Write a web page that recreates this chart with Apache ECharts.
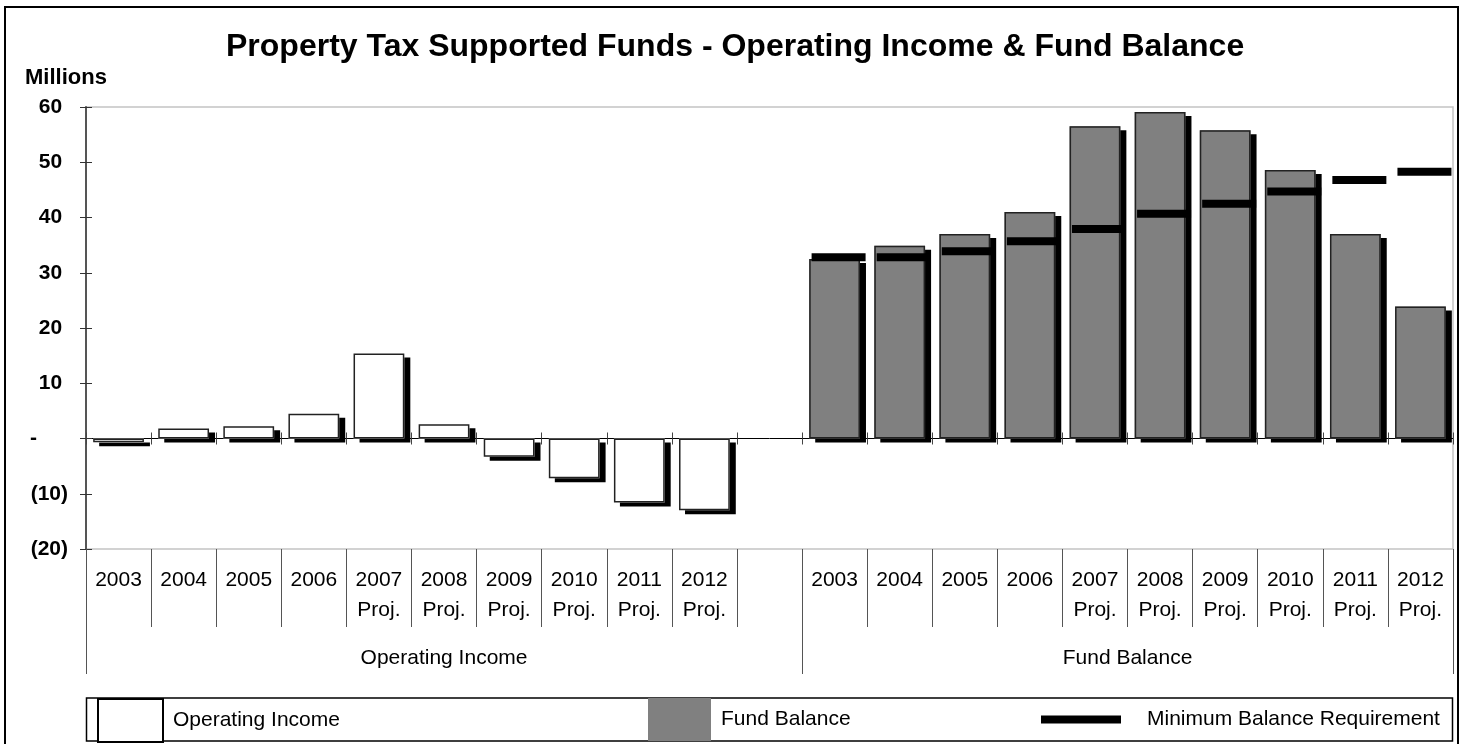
<!DOCTYPE html>
<html>
<head>
<meta charset="utf-8">
<title>Property Tax Supported Funds</title>
<script src="https://cdn.jsdelivr.net/npm/echarts@6/dist/echarts.min.js"></script>
<style>
  html, body { margin: 0; padding: 0; background: #fff; }
  #chart { width: 1465px; height: 744px; }
</style>
</head>
<body>
<div id="chart"></div>
<script>
// ---- data (millions) ----
var yearLabels = ['2003', '2004', '2005', '2006', '2007\nProj.', '2008\nProj.',
                  '2009\nProj.', '2010\nProj.', '2011\nProj.', '2012\nProj.'];
var groupNames = ['Operating Income', 'Fund Balance'];
var operatingIncome = [-0.7, 1.8, 2.2, 4.5, 15.4, 2.6, -3.3, -7.2, -11.6, -13.0];
var fundBalance = [32.5, 34.9, 37.0, 41.0, 56.5, 59.1, 55.8, 48.6, 37.0, 23.9];
var minBalance = [32.8, 32.8, 33.9, 35.7, 37.9, 40.7, 42.5, 44.7, 46.8, 48.3];
var yMin = -20, yMax = 60, yStep = 10;

var FONT = '"Liberation Sans", Arial, sans-serif';

// one empty slot between the two groups
var categories = yearLabels.concat([''], yearLabels);
function blanks(n) { var a = []; for (var i = 0; i < n; i++) a.push('-'); return a; }
var incomeData = operatingIncome.concat(blanks(yearLabels.length + 1));
var balanceData = blanks(yearLabels.length + 1).concat(fundBalance);
var minData = blanks(yearLabels.length + 1).concat(minBalance);
var groupSplit = yearLabels.length + 1;

function drawChart(domId) {
    var dom = document.getElementById(domId);
    var myChart = echarts.init(dom, null, { renderer: 'canvas' });

    // hard drop shadow, only on the fill (border is drawn by an overlay series)
    var shadow = { shadowColor: '#000', shadowBlur: 0, shadowOffsetX: 6, shadowOffsetY: 4 };
    var noShadow = { shadowColor: 'rgba(0,0,0,0)', shadowBlur: 0, shadowOffsetX: 0, shadowOffsetY: 0 };

    function barSeries(name, data, style) {
        return {
            name: name,
            type: 'bar',
            xAxisIndex: 0, yAxisIndex: 0,
            barWidth: '78%',
            barGap: '-100%',
            data: data,
            itemStyle: style
        };
    }

    var option = {
        animation: false,
        backgroundColor: '#fff',
        title: {
            text: 'Property Tax Supported Funds - Operating Income & Fund Balance',
            left: 221,
            top: 26,
            textStyle: { fontFamily: FONT, fontSize: 32, fontWeight: 'bold', color: '#000' }
        },
        grid: {
            left: 86, right: 12, top: 107, bottom: 195,
            show: true,
            borderColor: '#c4c4c4',
            borderWidth: 1.5
        },
        legend: [
            {
                data: ['Operating Income'],
                left: 92, top: 693,
                icon: 'rect', itemWidth: 65, itemHeight: 43,
                itemStyle: Object.assign({ color: '#fff', borderColor: '#000', borderWidth: 2 }, noShadow),
                textStyle: { fontFamily: FONT, fontSize: 21, color: '#000', padding: [0, 0, 0, 5] }
            },
            {
                data: ['Fund Balance'],
                left: 643, top: 693,
                icon: 'rect', itemWidth: 63, itemHeight: 43,
                itemStyle: Object.assign({ color: '#808080', borderColor: '#808080', borderWidth: 0 }, noShadow),
                textStyle: { fontFamily: FONT, fontSize: 21, color: '#000', padding: [0, 0, 0, 5] }
            },
            {
                data: ['Minimum Balance Requirement'],
                left: 1036, top: 704,
                icon: 'rect', itemWidth: 80, itemHeight: 8,
                itemStyle: Object.assign({ color: '#000', borderWidth: 0 }, noShadow),
                textStyle: { fontFamily: FONT, fontSize: 21, color: '#000', padding: [0, 0, 0, 21] }
            }
        ],
        xAxis: [
            {   // year labels with long dividers
                type: 'category',
                data: categories,
                position: 'bottom',
                axisLine: { show: false, onZero: false },
                axisTick: { show: true, interval: 0, length: 78, lineStyle: { color: '#555', width: 1 } },
                axisLabel: {
                    interval: 0, margin: 16, fontFamily: FONT, fontSize: 21,
                    lineHeight: 30, color: '#000'
                },
                splitLine: { show: false }
            },
            {   // zero line, ticks below
                type: 'category',
                data: categories,
                position: 'bottom',
                axisLine: { show: true, onZero: true, onZeroAxisIndex: 0, lineStyle: { color: '#000', width: 1 } },
                axisTick: { show: true, interval: 0, length: 6, lineStyle: { color: '#444' } },
                axisLabel: { show: false },
                splitLine: { show: false }
            },
            {   // zero line, ticks above
                type: 'category',
                data: categories,
                position: 'bottom',
                axisLine: { show: false, onZero: true, onZeroAxisIndex: 0 },
                axisTick: { show: true, inside: true, interval: 0, length: 6, lineStyle: { color: '#444' } },
                axisLabel: { show: false },
                splitLine: { show: false }
            },
            {   // group labels
                type: 'value',
                min: 0,
                max: categories.length,
                position: 'bottom',
                axisLine: { show: false, onZero: false },
                axisTick: {
                    show: true, length: 125,
                    customValues: [0, groupSplit, categories.length],
                    lineStyle: { color: '#555', width: 1 }
                },
                axisLabel: {
                    show: true, margin: 99, fontFamily: FONT, fontSize: 21, color: '#000',
                    customValues: [groupSplit / 2, (groupSplit + categories.length) / 2],
                    formatter: function (v) { return v < groupSplit ? groupNames[0] : groupNames[1]; }
                },
                splitLine: { show: false }
            }
        ],
        yAxis: [
            {
                type: 'value',
                min: yMin, max: yMax, interval: yStep,
                position: 'left',
                axisLine: { show: true, onZero: false, lineStyle: { color: '#555', width: 2 } },
                axisTick: { show: true, length: 6, lineStyle: { color: '#333', width: 1 } },
                axisLabel: {
                    margin: 18, align: 'right',
                    fontFamily: FONT, fontSize: 21, fontWeight: 'bold', color: '#000',
                    formatter: function (v) {
                        if (v === 0) return '{z|-}';
                        if (v < 0) return '(' + (-v) + ')';
                        return v + ' ';
                    },
                    rich: {
                        z: { width: 38, align: 'left', fontFamily: FONT, fontSize: 21, fontWeight: 'bold', color: '#000' }
                    }
                },
                splitLine: { show: false }
            },
            {
                type: 'value',
                min: yMin, max: yMax, interval: yStep,
                position: 'left',
                axisLine: { show: false, onZero: false },
                axisTick: { show: true, inside: true, length: 6, lineStyle: { color: '#333', width: 1 } },
                axisLabel: { show: false },
                splitLine: { show: false }
            }
        ],
        graphic: [
            {
                type: 'text', left: 25, top: 67, silent: true,
                style: { text: 'Millions', font: 'bold 22px ' + FONT, fill: '#000' }
            },
            {
                type: 'rect', silent: true, z: 0,
                shape: { x: 86.5, y: 698, width: 1366, height: 43 },
                style: { fill: 'transparent', stroke: '#000', lineWidth: 1.5 }
            },
            {
                type: 'rect', silent: true, z: 0,
                shape: { x: 5, y: 7, width: 1453, height: 745 },
                style: { fill: 'transparent', stroke: '#000', lineWidth: 2 }
            }
        ],
        series: [
            barSeries('Operating Income', incomeData,
                Object.assign({ color: '#fff', borderWidth: 0 }, shadow)),
            barSeries('Fund Balance', balanceData,
                Object.assign({ color: '#808080', borderWidth: 0 }, shadow)),
            barSeries('oi-outline', incomeData,
                Object.assign({ color: 'rgba(0,0,0,0)', borderColor: '#222', borderWidth: 1.5 }, noShadow)),
            barSeries('fb-outline', balanceData,
                Object.assign({ color: 'rgba(0,0,0,0)', borderColor: '#222', borderWidth: 1.5 }, noShadow)),
            {
                name: 'Minimum Balance Requirement',
                type: 'scatter',
                xAxisIndex: 0, yAxisIndex: 0,
                symbol: 'rect',
                symbolSize: [54, 8],
                symbolOffset: [4, 0],
                z: 5,
                data: minData,
                itemStyle: { color: '#000', opacity: 1 }
            }
        ]
    };
    if (option && typeof option === 'object') {
        myChart.setOption(option, true);
    }
    window.addEventListener('resize', function () {
        myChart.resize();
    });
}

drawChart('chart');
</script>
</body>
</html>
